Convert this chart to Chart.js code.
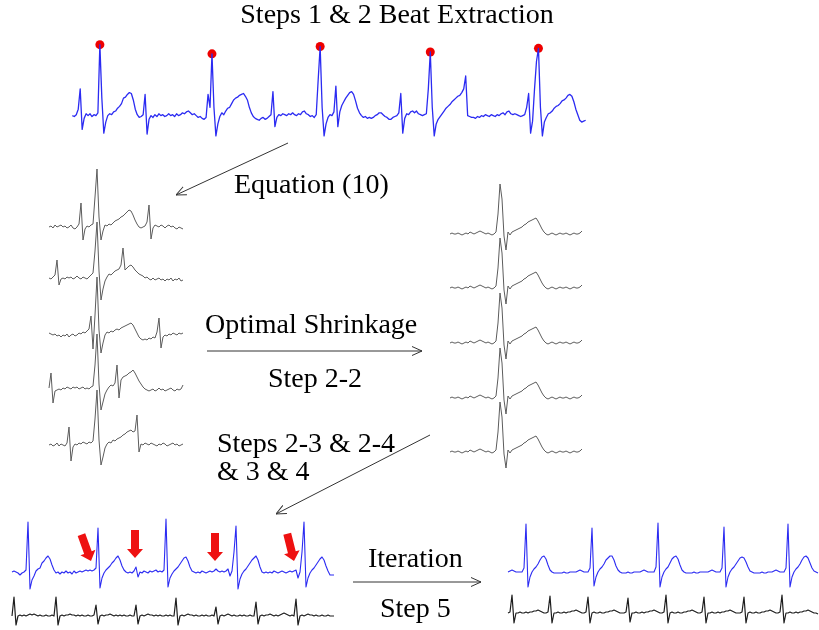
<!DOCTYPE html>
<html>
<head>
<meta charset="utf-8">
<script src="https://cdn.jsdelivr.net/npm/chart.js@4.4.0/dist/chart.umd.min.js"></script>
<style>
  html, body { margin: 0; padding: 0; background: #fff; }
  #board { position: relative; width: 819px; height: 630px; overflow: hidden; background: #fff; }
  #board canvas { position: absolute; }
  #labels { position: absolute; left: 0; top: 0; }
  #labels text { font-family: "Liberation Serif", "Times New Roman", serif; font-size: 28px; fill: #000; }
  #labels line { stroke: #333; stroke-width: 1; }
</style>
</head>
<body>
<div id="board">
  <canvas id="rawTrace" width="542" height="115" style="left:58px;top:30px"></canvas>
  <canvas id="rawBeats" width="150" height="320" style="left:40px;top:160px"></canvas>
  <canvas id="cleanBeats" width="150" height="300" style="left:440px;top:170px"></canvas>
  <canvas id="beforeIter" width="340" height="120" style="left:0px;top:510px"></canvas>
  <canvas id="afterIter" width="319" height="120" style="left:500px;top:510px"></canvas>

  <svg id="labels" width="819" height="630">
    <defs>
      <marker id="head" viewBox="0 0 10 10" refX="10" refY="5" markerWidth="10" markerHeight="10"
              markerUnits="userSpaceOnUse" orient="auto">
        <path d="M0,0.5 L10,5 L0,9.5" fill="none" stroke="#333" stroke-width="1"/>
      </marker>
    </defs>
    <text x="397" y="23" text-anchor="middle">Steps 1 &amp; 2 Beat Extraction</text>
    <line x1="288" y1="143" x2="176" y2="195" marker-end="url(#head)"/>
    <text x="234" y="193">Equation (10)</text>
    <text x="205" y="333">Optimal Shrinkage</text>
    <line x1="207" y1="351" x2="422" y2="351" marker-end="url(#head)"/>
    <text x="268" y="387">Step 2-2</text>
    <text x="217" y="452">Steps 2-3 &amp; 2-4</text>
    <text x="217" y="480">&amp; 3 &amp; 4</text>
    <line x1="430" y1="435" x2="276" y2="514" marker-end="url(#head)"/>
    <text x="368" y="567">Iteration</text>
    <line x1="353" y1="582" x2="481" y2="582" marker-end="url(#head)"/>
    <text x="380" y="617">Step 5</text>
  </svg>
</div>

<script>
// ---- recorded signal (arbitrary amplitude units, one value per sample) ----

const rawTrace = [
  1, 0, 2, 8, 30, -14, -2, 3, 1, 3,
  0, 2, 1, 4, 78, 20, -18, -6, 1, 3,
  2, 5, 6, 9, 11, 14, 20, 21, 24, 26,
  25, 18, 8, 2, -1, 0, 2, 24, -19, -3,
  1, -1, 2, 0, 3, 1, 2, 0, 1, 3,
  1, 2, 0, 3, 1, 2, 4, 3, 5, 6,
  4, 2, 3, 1, -1, 0, -2, -3, -1, 24,
  10, 68, 10, -21, -8, 0, 4, 2, 6, 9,
  10, 14, 18, 20, 21, 23, 24, 25, 22, 18,
  10, 4, 0, -2, -3, -4, -2, -1, -3, -2,
  0, 2, 27, -11, -1, 2, 1, 3, 2, 1,
  3, 2, 4, 2, 1, 3, 2, 5, 6, 3,
  2, 0, 1, -1, 2, 40, 76, 10, -21, -8,
  -1, 2, 1, 5, 33, -11, 5, 12, 16, 20,
  23, 26, 27, 24, 17, 9, 4, 1, -1, 0,
  -2, -1, -2, -1, 1, 2, 4, 4, 2, 0,
  -1, -3, -3, -1, 0, 1, 4, 25, -18, -2,
  3, 2, 5, 6, 4, 6, 3, 2, 1, 2,
  3, 30, 70, 10, -21, -8, -3, 0, 3, 6,
  9, 11, 13, 16, 18, 20, 22, 23, 26, 30,
  44, 1, 0, -1, -1, -2, 0, -1, 1, 0,
  2, 1, 0, 2, 1, 0, 2, 1, 3, 4,
  2, 5, 6, 3, 2, 3, 2, 1, 0, 1,
  2, 10, 25, -18, -5, 30, 60, 74, 10, -21,
  -6, -1, 3, 4, 6, 9, 11, 12, 14, 17,
  18, 20, 23, 24, 22, 16, 8, 2, -4, -6,
  -5, -4
];

// detected R peaks (sample index into rawTrace)
const rPeakIndex = [14, 71, 126, 182, 237];

// ---- extracted beats, one segment per row ----

const beat1 = [
  0, 1, -1, 2, 0, 1, 2, 0, 1, -1,
  0, 2, -1, -2, 0, 3, 24, -13, -2, 1,
  0, 2, 3, 30, 58, 10, -13, -4, 2, 1,
  3, 2, 4, 6, 7, 8, 10, 11, 13, 15,
  17, 16, 12, 7, 3, 0, -1, 0, 1, 5,
  22, -12, -1, 2, 1, 0, 2, 1, -1, 1,
  2, 0, 1, -1, -2, 0, -1, -2
];
const beat2 = [
  1, 0, 2, 4, 19, -6, 0, 1, 0, 2,
  1, 2, 0, 1, 3, 1, 0, 2, 1, 0,
  2, 4, 6, 28, 57, 8, -21, -10, -2, 2,
  5, 4, 6, 8, 9, 10, 14, 31, 9, 11,
  13, 14, 12, 9, 7, 5, 4, 3, 1, 2,
  0, -1, 1, -1, 0, 1, -1, 0, -2, 0,
  -1, 1, -2, 0, -1, 1, -2, -1
];
const beat3 = [
  2, 1, 0, 1, -1, 0, -2, 0, -1, 1,
  -2, 0, 1, -1, 0, 2, 1, 3, 2, 4,
  6, 19, -14, 20, 58, 5, -18, -8, 0, 3,
  2, 4, 3, 5, 6, 5, 7, 8, 9, 10,
  11, 12, 10, 6, 2, -2, -4, -5, -4, -5,
  -3, -4, -2, -3, 3, 17, -13, -2, 0, -1,
  1, 0, 2, 1, 0, 2, 1, 2
];
const beat4 = [
  2, 17, -13, -1, 0, 1, 0, 2, 1, 3,
  2, 1, 3, 2, 3, 1, 2, 3, 1, 2,
  1, 3, 4, 25, 56, 6, -20, -12, -4, 0,
  3, 5, 4, 7, 25, -8, 10, 13, 14, 15,
  17, 18, 20, 17, 13, 9, 6, 3, 1, 0,
  -1, 0, 1, -1, 0, 2, 0, 1, -1, 0,
  1, 2, 0, -1, 1, 0, 1, 5
];
const beat5 = [
  0, 1, -1, 0, 2, -1, 1, 0, -1, 2,
  18, -16, -2, 1, 0, 2, 1, 3, 2, 1,
  3, 2, 4, 26, 55, 5, -20, -12, -3, 1,
  3, 2, 5, 4, 6, 7, 8, 10, 11, 13,
  14, 15, 13, 14, 30, -7, 1, 0, 2, 1,
  0, 2, 1, 0, -1, 1, 0, 2, 1, -1,
  0, 1, 2, 0, 1, -1, 0, 1
];

// beat after optimal shrinkage (same for every row)
const shrunkBeat = [
  0, 1, 0, 0, 1, 0, -1, 0, 1, 0,
  2, 1, 0, 1, 2, 3, 2, 1, 0, 1,
  0, -1, 0, 2, 20, 50, 35, -2, -16, 2,
  -1, 2, 3, 4, 5, 6, 7, 9, 10, 12,
  13, 14, 15, 16, 13, 9, 5, 2, 0, -1,
  0, 1, 0, -1, 0, 1, 0, 0, 1, 0,
  -1, 0, 1, 0, 0, 1, 3
];

// ---- maternal / fetal estimate before iteration ----

const mecgBefore = [
  0, 1, 0, -1, -3, -1, 0, 2, 50, -17,
  -8, -4, 1, 3, 4, 9, 11, 14, 16, 13,
  7, 2, -1, 0, -2, 0, -1, 1, -1, 0,
  -2, 1, -1, 0, 1, 0, 1, 2, 1, 2,
  1, 2, 4, 44, -16, -6, -1, 2, 4, 6,
  9, 11, 14, 16, 12, 6, 2, 0, -1, 0,
  -1, 1, 5, -5, 0, -1, 1, 0, -1, 1,
  0, 1, 2, 0, 1, 0, 2, 53, -15, -6,
  -2, 1, 3, 5, 8, 11, 14, 15, 11, 5,
  1, 0, -1, 0, -1, 1, 0, -1, 0, 1,
  0, 1, 3, 1, 0, 1, 0, 1, 3, -4,
  1, 20, 46, -17, -7, -2, 1, 3, 6, 9,
  12, 14, 16, 12, 5, 0, -1, 0, -1, 0,
  -1, 1, 0, -1, 0, 1, 0, -1, 0, 1,
  0, 1, 2, -6, 0, 20, 50, -15, -6, -1,
  2, 4, 7, 10, 13, 15, 12, 6, 1, -3,
  -3, -3
];
const fecgBefore = [
  0, 19, -9, 0, 1, 0, 1, 0, 1, 2,
  1, 2, 1, 0, 1, 0, 0, 1, 0, 0,
  1, 0, 19, -9, 0, 1, 0, 1, 1, 2,
  1, 1, 0, 1, 0, 1, 0, 0, 1, 0,
  0, 1, 11, -8, 0, 1, 0, 1, 1, 2,
  1, 0, 1, 0, 1, 0, 1, 0, 0, 1,
  0, 0, 11, -8, 0, 1, 0, 1, 2, 1,
  1, 0, 1, 0, 1, 0, 0, 1, 0, 1,
  0, 0, 18, -9, 0, 1, 0, 1, 2, 1,
  1, 0, 1, 0, 0, 1, 0, 1, 0, 0,
  1, 0, 9, -8, 0, 1, 0, 1, 2, 1,
  0, 1, 0, 0, 1, 0, 1, 0, 0, 1,
  0, 0, 14, -8, 0, 1, 0, 1, 1, 2,
  1, 0, 1, 0, 1, 2, 3, 2, 1, 0,
  1, 0, 17, -9, 0, 1, 0, 1, 2, 1,
  1, 0, 1, 0, 0, 1, 0, 0, 1, 0,
  0, 0
];

// samples where a fetal beat was missed, arrow tilt in degrees
const missedBeatAt = [39.5, 61.5, 101.5, 141];
const missedBeatLevel = [11, 14, 11, 11];
const arrowTilt = [20, 0, 0, 14];

// ---- estimate after iteration ----

const mecgAfter = [
  0, 1, 2, 1, 0, 0, 0, 0, 4, 48,
  -15, -5, 0, 3, 5, 8, 12, 15, 16, 13,
  7, 2, 0, -1, -1, -1, -1, -1, 0, -1,
  -1, 0, 0, 0, 0, 1, 2, 1, 0, 0,
  0, 4, 44, -14, -5, 0, 3, 5, 8, 12,
  14, 16, 16, 12, 6, 2, 0, -1, -1, -1,
  0, -1, -1, 0, 0, 0, 0, 1, 2, 1,
  0, 0, 0, 0, 5, 49, -15, -5, 0, 3,
  5, 9, 13, 15, 16, 13, 7, 2, 0, -1,
  -1, -1, -1, 0, -1, -1, 0, 0, 0, 0,
  0, 1, 2, 1, 0, 0, 0, 4, 45, -15,
  -5, 0, 3, 5, 8, 11, 14, 15, 14, 10,
  5, 1, 0, -1, -1, -1, -1, 0, -1, -1,
  0, 0, 0, 1, 2, 1, 0, 0, 0, 4,
  48, -15, -5, 0, 3, 5, 8, 12, 15, 16,
  14, 9, 4, 1, 0, -1
];
const fecgAfter = [
  0, 1, 18, -10, 0, 0, 1, 0, 0, 1,
  0, 1, 1, 2, 2, 3, 2, 1, 0, 0,
  1, 17, -10, 0, 0, 1, 0, 0, 1, 0,
  1, 1, 2, 2, 3, 2, 1, 0, 0, 1,
  16, -10, 0, 1, 0, 0, 1, 0, 0, 1,
  1, 2, 2, 3, 2, 1, 0, 0, 0, 1,
  15, -9, 0, 0, 1, 0, 0, 1, 0, 1,
  1, 2, 2, 3, 2, 1, 0, 0, 1, 18,
  -10, 0, 1, 0, 0, 1, 0, 0, 1, 1,
  2, 2, 3, 2, 1, 0, 0, 1, 16, -10,
  0, 0, 1, 0, 0, 1, 0, 1, 1, 2,
  2, 3, 2, 1, 0, 0, 0, 1, 16, -10,
  0, 1, 0, 0, 1, 0, 0, 1, 1, 2,
  2, 3, 2, 1, 0, 0, 1, 18, -10, 0,
  0, 1, 0, 0, 1, 0, 1, 1, 2, 2,
  3, 2, 1, 0, 0, -1
];

// ---- helpers ----

const BLUE = "#2b2bf2";
const GREY = "#5c5c5c";
const DARK = "#1e1e1e";

const toPoints = arr => arr.map((v, i) => ({ x: i, y: v }));

// horizontal span: first sample sits firstPx from the canvas edge
function sampleSpan(firstPx, widthPx, pxPerSample) {
  return { min: -firstPx / pxPerSample, max: (widthPx - firstPx) / pxPerSample };
}

// vertical span at one unit per pixel, zero level baselinePx below the top
function levelSpan(baselinePx, heightPx) {
  return { min: baselinePx - heightPx, max: baselinePx };
}

function trace(data, axis, color, width) {
  return {
    data: toPoints(data),
    yAxisID: axis,
    borderColor: color,
    borderWidth: width,
    pointRadius: 0,
    clip: false
  };
}

function traceChart(id, datasets, xSpan, yAxes, plugins = []) {
  const scales = { x: { type: "linear", display: false, ...xSpan } };
  Object.entries(yAxes).forEach(([key, span]) => {
    scales[key] = { type: "linear", display: false, ...span };
  });

  return new Chart(document.getElementById(id), {
    type: "line",
    data: { datasets },
    options: {
      responsive: false,
      animation: false,
      events: [],
      layout: { padding: 0 },
      plugins: { legend: { display: false }, tooltip: { enabled: false } },
      elements: { line: { tension: 0, borderJoinStyle: "round" } },
      scales
    },
    plugins
  });
}

// red block arrows pointing at the missed fetal beats
const missedBeatArrows = {
  id: "missedBeatArrows",
  afterDatasetsDraw(chart) {
    const { ctx, scales } = chart;
    ctx.save();
    ctx.fillStyle = "#ee1111";
    missedBeatAt.forEach((s, k) => {
      const px = scales.x.getPixelForValue(s);
      const py = scales.yBlue.getPixelForValue(missedBeatLevel[k]);
      ctx.save();
      ctx.translate(px, py);
      ctx.rotate(-arrowTilt[k] * Math.PI / 180);
      ctx.beginPath();
      ctx.moveTo(0, 0);
      ctx.lineTo(-8, -9);
      ctx.lineTo(-4, -9);
      ctx.lineTo(-4, -28);
      ctx.lineTo(4, -28);
      ctx.lineTo(4, -9);
      ctx.lineTo(8, -9);
      ctx.closePath();
      ctx.fill();
      ctx.restore();
    });
    ctx.restore();
  }
};

/* ================= RAW TRACE ================= */

traceChart("rawTrace", [
  trace(rawTrace, "y", BLUE, 1.3),
  {
    data: rPeakIndex.map(i => ({ x: i, y: rawTrace[i] })),
    yAxisID: "y",
    showLine: false,
    pointRadius: 4.5,
    pointBackgroundColor: "#ee0000",
    pointBorderWidth: 0,
    clip: false
  }
], sampleSpan(10, 542, 2), { y: levelSpan(89, 115) });

/* ================= BEAT STACKS ================= */

const rawRows = [beat1, beat2, beat3, beat4, beat5];
const rawRowBase = [67, 119, 175, 230, 285];
const rawAxes = {};
rawRowBase.forEach((b, r) => { rawAxes["y" + r] = levelSpan(b, 320); });

traceChart("rawBeats",
  rawRows.map((row, r) => trace(row, "y" + r, GREY, 1)),
  sampleSpan(9, 150, 2), rawAxes);

const cleanRowBase = [64, 118, 173, 228, 282];
const cleanAxes = {};
cleanRowBase.forEach((b, r) => { cleanAxes["y" + r] = levelSpan(b, 300); });

traceChart("cleanBeats",
  cleanRowBase.map((_, r) => trace(shrunkBeat, "y" + r, GREY, 1)),
  sampleSpan(10, 150, 2), cleanAxes);

/* ================= ITERATION ================= */

traceChart("beforeIter", [
  trace(mecgBefore, "yBlue", BLUE, 1.1),
  trace(fecgBefore, "yBlack", DARK, 1.2)
], sampleSpan(12, 340, 2), {
  yBlue: levelSpan(62, 120),
  yBlack: levelSpan(106, 120)
}, [missedBeatArrows]);

traceChart("afterIter", [
  trace(mecgAfter, "yBlue", BLUE, 1.1),
  trace(fecgAfter, "yBlack", DARK, 1.2)
], sampleSpan(8, 319, 2), {
  yBlue: levelSpan(62, 120),
  yBlack: levelSpan(103, 120)
});
</script>
</body>
</html>
